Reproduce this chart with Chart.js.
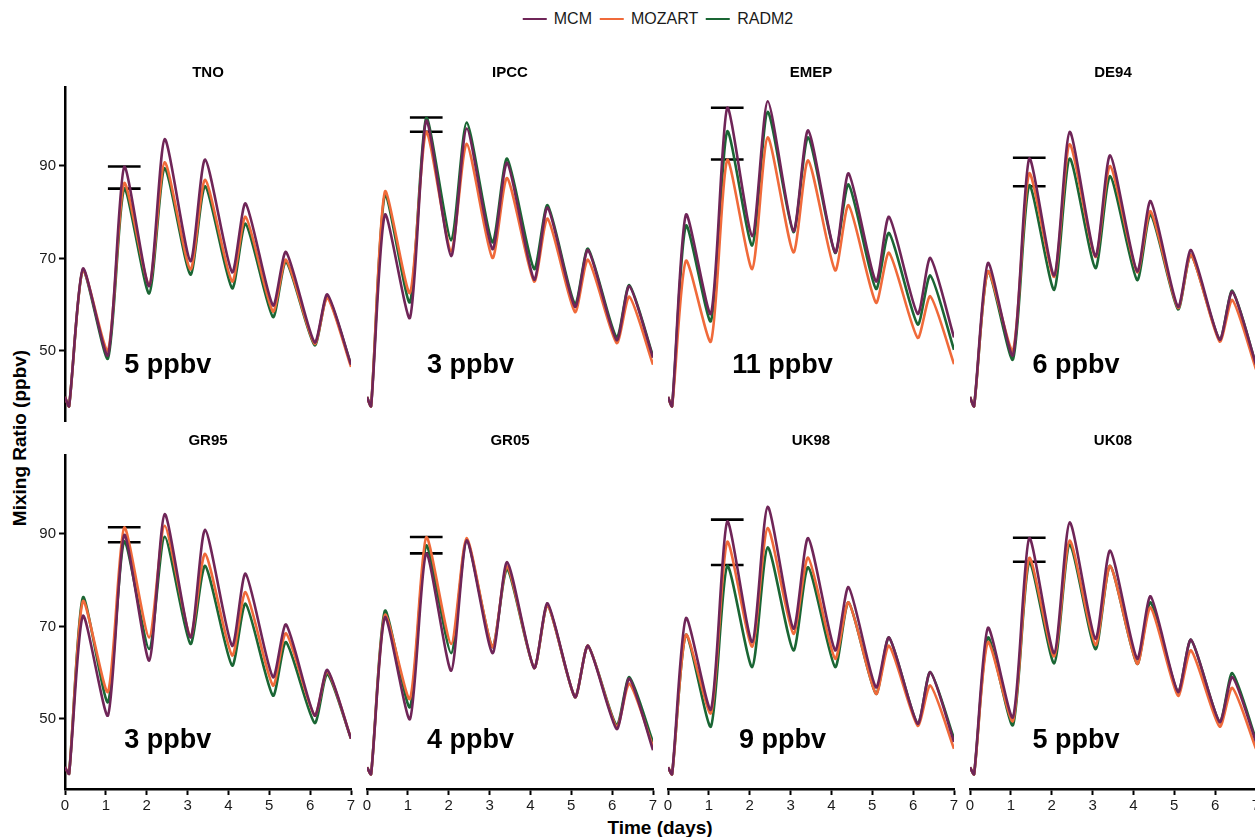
<!DOCTYPE html>
<html>
<head>
<meta charset="utf-8">
<script src="https://cdn.jsdelivr.net/npm/chart.js@4.4.1/dist/chart.umd.min.js"></script>
<style>
  html, body { margin:0; padding:0; background:#fff; width:1255px; height:837px; overflow:hidden; }
  body { position:relative; font-family:"Liberation Sans", Arial, Helvetica, sans-serif; }
  canvas { position:absolute; }
  #legend { position:absolute; top:10px; left:662px; transform:translateX(-50%); display:flex; align-items:center; font-size:16px; color:#1a1a1a; white-space:nowrap; }
  #legend .sw { display:inline-block; width:24px; height:2.5px; margin-right:7px; }
  #legend .lb { margin-right:8px; }
  #ytitle { position:absolute; left:20px; top:438px; transform:translate(-50%,-50%) rotate(-90deg); font-weight:bold; font-size:19px; white-space:nowrap; color:#000; }
  #xtitle { position:absolute; left:660px; top:828px; transform:translate(-50%,-50%); font-weight:bold; font-size:19px; white-space:nowrap; color:#000; }
</style>
</head>
<body>
<div id="legend"></div>
<div id="ytitle">Mixing Ratio (ppbv)</div>
<div id="xtitle">Time (days)</div>
<script>
// ---------------- data ----------------
const seriesNames = ["MCM", "MOZART", "RADM2"];
const seriesColors = ["#6f2558", "#f06a3a", "#1a6634"];
const panelNames = ["TNO", "IPCC", "EMEP", "DE94", "GR95", "GR05", "UK98", "UK08"];
const times = [0, 0.1, 0.44, 1.05, 1.45, 2.06, 2.44, 3.07, 3.43, 4.09, 4.42, 5.09, 5.41, 6.11, 6.42, 7];
const xTicks = [0, 1, 2, 3, 4, 5, 6, 7];
const yTicks = [50, 70, 90];

const tnoMCM    = [40, 38, 67.8, 49.0, 89.8, 64.0, 95.8, 69.4, 91.4, 67.0, 81.9, 59.8, 71.4, 51.8, 62.2, 47.0];
const tnoMOZART = [40, 38, 67.5, 50.0, 86.3, 64.2, 90.8, 67.6, 87.0, 65.0, 79.0, 58.5, 69.7, 51.5, 61.5, 46.5];
const tnoRADM2  = [40, 38, 67.5, 48.3, 85.1, 62.4, 89.5, 66.5, 85.6, 63.5, 77.5, 57.3, 69.3, 51.2, 61.8, 47.0];

const ipccMCM    = [40, 38, 79.5, 57.1, 99.8, 70.5, 98.1, 72.0, 90.7, 65.4, 81.0, 59.5, 71.8, 52.3, 64.0, 48.5];
const ipccMOZART = [40, 38, 84.5, 62.5, 97.4, 71.5, 94.8, 70.1, 87.4, 65.0, 78.6, 58.4, 69.7, 51.7, 61.7, 47.0];
const ipccRADM2  = [40, 38, 83.8, 60.5, 100.4, 73.9, 99.4, 73.5, 91.6, 67.7, 81.5, 60.1, 72.1, 52.9, 64.2, 48.8];

const emepMCM    = [40, 38, 79.5, 58.0, 102.6, 74.8, 104.0, 75.9, 97.7, 71.3, 88.4, 65.0, 79.0, 58.0, 70.1, 52.9];
const emepMOZART = [40, 38, 69.5, 52.0, 91.3, 67.7, 96.2, 71.3, 91.2, 67.4, 81.5, 60.4, 71.2, 52.8, 61.8, 47.1];
const emepRADM2  = [40, 38, 77.1, 56.4, 97.5, 72.8, 101.7, 75.7, 96.2, 71.2, 86.0, 63.4, 75.5, 55.7, 66.3, 50.2];

const de94MCM    = [40, 38, 69.0, 49.0, 91.6, 66.3, 97.4, 70.5, 92.3, 67.2, 82.4, 59.5, 71.8, 52.4, 62.8, 47.0];
const de94MOZART = [40, 38, 67.2, 50.0, 88.4, 66.0, 94.7, 70.3, 90.0, 67.0, 80.2, 59.3, 70.8, 52.0, 61.0, 46.0];
const de94RADM2  = [40, 38, 67.2, 48.1, 85.8, 63.2, 91.6, 67.9, 87.8, 65.3, 79.5, 59.0, 70.8, 52.4, 63.0, 47.0];

const gr95MCM    = [39.5, 38.1, 72.3, 50.7, 89.8, 62.6, 94.3, 67.6, 90.9, 65.8, 81.4, 59.0, 70.4, 50.7, 60.6, 45.7];
const gr95MOZART = [39.5, 38.1, 75.5, 55.8, 91.4, 67.6, 91.8, 67.8, 85.7, 63.7, 77.4, 57.2, 68.5, 50.7, 60.3, 45.7];
const gr95RADM2  = [39.5, 38.1, 76.3, 53.6, 88.4, 65.1, 89.4, 66.2, 83.1, 61.5, 74.9, 55.0, 66.6, 49.1, 59.7, 45.7];

const gr05MCM    = [39.5, 38, 72.0, 49.9, 85.8, 60.4, 88.6, 64.2, 83.9, 61.0, 75.0, 54.7, 65.8, 47.8, 58.7, 43.2];
const gr05MOZART = [39.5, 38, 72.5, 54.3, 89.3, 66.2, 89.1, 65.5, 83.0, 61.0, 74.6, 54.7, 65.8, 48.2, 57.6, 44.0];
const gr05RADM2  = [39.5, 38, 73.4, 52.5, 87.5, 64.2, 88.6, 65.5, 82.4, 61.0, 74.6, 54.7, 65.8, 48.6, 59.0, 44.9];

const uk98MCM    = [39.5, 38, 71.8, 52.0, 92.7, 66.6, 95.9, 69.5, 89.1, 64.8, 78.5, 56.8, 67.6, 48.9, 60.1, 45.0];
const uk98MOZART = [39.5, 38, 68.2, 51.2, 88.3, 65.6, 91.3, 68.4, 84.9, 63.0, 75.2, 55.4, 65.8, 48.5, 57.2, 43.5];
const uk98RADM2  = [39.5, 38, 68.2, 48.3, 83.1, 61.2, 87.1, 64.8, 82.8, 61.2, 75.2, 55.4, 67.6, 48.9, 60.1, 45.7];

const uk08MCM    = [39.5, 38, 69.7, 50.3, 89.1, 64.2, 92.5, 67.3, 86.4, 63.0, 76.5, 55.8, 67.1, 49.3, 59.0, 45.0];
const uk08MOZART = [39.5, 38, 66.6, 49.5, 84.8, 63.5, 88.6, 66.0, 83.1, 61.9, 74.1, 55.0, 64.8, 48.3, 56.7, 43.5];
const uk08RADM2  = [39.5, 38, 67.6, 48.6, 83.9, 62.0, 87.7, 65.1, 83.1, 61.9, 75.2, 55.8, 67.1, 49.3, 59.9, 45.5];

const barTop    = [89.9, 100.5, 102.6, 91.8, 91.45, 89.35, 93.1, 89.2];
const barBottom = [85.1, 97.4, 91.4, 85.6, 88.2, 85.8, 83.3, 84.0];
const barStart = 1.05, barEnd = 1.85;

const spreadLabels = ["5 ppbv", "3 ppbv", "11 ppbv", "6 ppbv", "3 ppbv", "4 ppbv", "9 ppbv", "5 ppbv"];
const labelX = [1.45, 1.47, 1.57, 1.53, 1.45, 1.47, 1.74, 1.53];
const labelY = [45.25, 45.25, 45.25, 45.25, 43.7, 43.7, 43.7, 43.7];

const panelSeries = [
  [tnoMCM, tnoMOZART, tnoRADM2],
  [ipccMCM, ipccMOZART, ipccRADM2],
  [emepMCM, emepMOZART, emepRADM2],
  [de94MCM, de94MOZART, de94RADM2],
  [gr95MCM, gr95MOZART, gr95RADM2],
  [gr05MCM, gr05MOZART, gr05RADM2],
  [uk98MCM, uk98MOZART, uk98RADM2],
  [uk08MCM, uk08MOZART, uk08RADM2]
];

// ---------------- layout ----------------
const FONT = '"Liberation Sans", Arial, Helvetica, sans-serif';
const areaLefts = [65, 367, 668, 970];
const areaTops = [87, 455];
const AREA_W = 286, AREA_H = 334, YW = 65, PAD_TOP = 40, XH = 32, PAD_R = 12, PAD_B = 4;
const Y_MIN = 34.8, Y_MAX = 107.1;

// legend (HTML)
const legend = document.getElementById('legend');
seriesNames.forEach((n, i) => {
  const sw = document.createElement('span'); sw.className = 'sw'; sw.style.background = seriesColors[i];
  const lb = document.createElement('span'); lb.className = 'lb'; lb.textContent = n;
  legend.appendChild(sw); legend.appendChild(lb);
});

const panelText = {
  id: 'panelText',
  afterDraw(chart, args, opts) {
    const { ctx, chartArea: a, scales: { x, y } } = chart;
    ctx.save();
    ctx.fillStyle = '#000';
    ctx.font = 'bold 15px ' + FONT;
    ctx.textAlign = 'center'; ctx.textBaseline = 'middle';
    ctx.fillText(opts.title, (a.left + a.right) / 2, a.top - 14);
    ctx.font = 'bold 27px ' + FONT;
    ctx.textAlign = 'left'; ctx.textBaseline = 'alphabetic';
    ctx.fillText(opts.label, x.getPixelForValue(opts.lx), y.getPixelForValue(opts.ly));
    ctx.restore();
  }
};

panelNames.forEach((name, i) => {
  const col = i % 4, row = Math.floor(i / 4);
  const showY = col === 0, showX = row === 1;
  const cv = document.createElement('canvas');
  const W = YW + AREA_W + PAD_R, H = PAD_TOP + AREA_H + XH + PAD_B;
  cv.width = W; cv.height = H;
  cv.style.width = W + 'px'; cv.style.height = H + 'px';
  cv.style.left = (areaLefts[col] - YW) + 'px';
  cv.style.top = (areaTops[row] - PAD_TOP) + 'px';
  document.body.appendChild(cv);

  const datasets = panelSeries[i].map((vals, s) => ({
    label: seriesNames[s],
    data: times.map((t, k) => ({ x: t, y: vals[k] })),
    borderColor: seriesColors[s],
    borderWidth: 2.6,
    cubicInterpolationMode: 'default',
    tension: 0.22,
    pointRadius: 0,
    fill: false
  }));
  [barTop[i], barBottom[i]].forEach((v, b) => {
    datasets.push({
      label: b === 0 ? 'max' : 'min',
      data: [{ x: barStart, y: v }, { x: barEnd, y: v }],
      borderColor: '#000', borderWidth: 2.6, pointRadius: 0, fill: false, tension: 0
    });
  });

  new Chart(cv, {
    type: 'line',
    data: { datasets },
    options: {
      responsive: false, animation: false, maintainAspectRatio: false,
      layout: { padding: { top: PAD_TOP, right: PAD_R, bottom: PAD_B, left: 0 } },
      plugins: {
        legend: { display: false }, tooltip: { enabled: false }, title: { display: false },
        panelText: { title: name, label: spreadLabels[i], lx: labelX[i], ly: labelY[i] }
      },
      scales: {
        x: {
          type: 'linear', min: 0, max: 7,
          afterBuildTicks: s => { s.ticks = xTicks.map(v => ({ value: v })); },
          afterFit: s => { s.height = XH; },
          grid: { display: showX, drawOnChartArea: false, drawTicks: true, tickLength: 6, color: '#000', tickColor: '#000', tickWidth: 2 },
          border: { display: showX, color: '#000', width: 2.5 },
          ticks: { display: showX, color: '#1a1a1a', font: { size: 15, family: FONT }, padding: 2, maxRotation: 0, autoSkip: false }
        },
        y: {
          type: 'linear', min: Y_MIN, max: Y_MAX,
          afterBuildTicks: s => { s.ticks = yTicks.map(v => ({ value: v })); },
          afterFit: s => { s.width = YW; },
          grid: { display: showY, drawOnChartArea: false, drawTicks: true, tickLength: 6, color: '#000', tickColor: '#000', tickWidth: 2 },
          border: { display: showY, color: '#000', width: 2.5 },
          ticks: { display: showY, color: '#1a1a1a', font: { size: 15, family: FONT }, padding: 3 }
        }
      }
    },
    plugins: [panelText]
  });
});
</script>
</body>
</html>
